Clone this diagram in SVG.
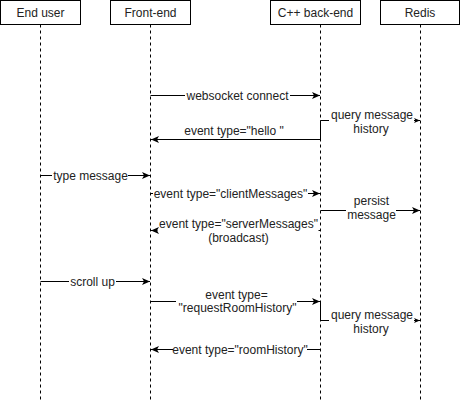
<svg xmlns="http://www.w3.org/2000/svg" width="461" height="402" viewBox="0 0 461 402">
  <style>
    .box { fill: #ffffff; stroke: #000000; stroke-width: 1; }
    .life { fill: none; stroke: #000000; stroke-width: 1; stroke-dasharray: 3 3; }
    .edge { fill: none; stroke: #000000; stroke-width: 1; }
    .arr { marker-end: url(#arrow); }
    .arrs { marker-end: url(#arrowS); }
    text { font-family: "Liberation Sans", Arial, Helvetica, sans-serif; font-size: 12px; fill: #222222; text-anchor: middle; }
  </style>
  <defs>
    <marker id="arrow" viewBox="0 0 8 8" refX="8" refY="4" markerWidth="8" markerHeight="8" markerUnits="userSpaceOnUse" orient="auto">
      <path d="M0,0.5 L8,4 L0,7.5 L2,4 Z" fill="#000000"/>
    </marker>
    <marker id="arrowS" viewBox="0 0 6 6" refX="6" refY="3" markerWidth="6" markerHeight="6" markerUnits="userSpaceOnUse" orient="auto">
      <path d="M0,0.5 L6,3 L0,5.5 L1.5,3 Z" fill="#000000"/>
    </marker>
  </defs>
  <rect width="461" height="402" fill="#ffffff"/>

  <g id="end-user">
    <rect class="box" x="0.5" y="0.5" width="80" height="24"/>
    <text x="40.5" y="16.5">End user</text>
    <path class="life" d="M40.5,24.5 V402"/>
  </g>
  <g id="front-end">
    <rect class="box" x="110.5" y="0.5" width="80" height="24"/>
    <text x="150.5" y="16.5">Front-end</text>
    <path class="life" d="M150.5,24.5 V402"/>
  </g>
  <g id="cpp-back-end">
    <rect class="box" x="270.5" y="0.5" width="90" height="24"/>
    <text x="315.5" y="16.5">C++ back-end</text>
    <path class="life" d="M320.5,24.5 V402"/>
  </g>
  <g id="redis">
    <rect class="box" x="380.5" y="0.5" width="79" height="24"/>
    <text x="420" y="16.5">Redis</text>
    <path class="life" d="M420.5,24.5 V402"/>
  </g>

  <g id="connectors">
    <!-- websocket connect -->
    <path class="edge" d="M150.5,95.5 H185"/>
    <path class="edge arr" d="M290,95.5 H320"/>
    <text x="237.5" y="99.5">websocket connect</text>

    <!-- hello -->
    <path class="edge arr" d="M320.5,139.5 H151"/>
    <text x="234" y="135">event type="hello "</text>

    <!-- query message history 1 -->
    <path class="edge" d="M320.5,139.5 V120.5 H329"/>
    <path class="edge arrs" d="M414,120.5 H420"/>
    <text x="372" y="118.5">query message</text>
    <text x="371" y="133">history</text>

    <!-- type message -->
    <path class="edge" d="M40.5,175.5 H52"/>
    <path class="edge arr" d="M128,175.5 H150"/>
    <text x="90.5" y="179.5">type message</text>

    <!-- clientMessages -->
    <path class="edge" d="M150.5,193.5 H153"/>
    <path class="edge arr" d="M308,193.5 H320"/>
    <text x="230.5" y="197.5">event type="clientMessages"</text>

    <!-- serverMessages -->
    <path class="edge" d="M320.5,230.5 H318.5"/>
    <path class="edge arr" d="M157.5,230.5 H151"/>
    <text x="238.5" y="227.5">event type="serverMessages"</text>
    <text x="238.5" y="241.5">(broadcast)</text>

    <!-- persist message -->
    <path class="edge" d="M320.5,210.5 H346"/>
    <path class="edge arr" d="M396,210.5 H420"/>
    <text x="371.5" y="205">persist</text>
    <text x="371.5" y="219">message</text>

    <!-- scroll up -->
    <path class="edge" d="M40.5,281.5 H69"/>
    <path class="edge arr" d="M116,281.5 H150"/>
    <text x="92.5" y="285.5">scroll up</text>

    <!-- requestRoomHistory -->
    <path class="edge" d="M150.5,301.5 H176"/>
    <path class="edge arr" d="M297,301.5 H320"/>
    <text x="236.5" y="298.5">event type=</text>
    <text x="237.5" y="312">"requestRoomHistory"</text>

    <!-- query message history 2 -->
    <path class="edge" d="M320.5,301.5 V320.5 H329"/>
    <path class="edge arrs" d="M414,320.5 H420"/>
    <text x="372" y="318.5">query message</text>
    <text x="371" y="333">history</text>

    <!-- roomHistory -->
    <path class="edge" d="M320.5,349.5 H307"/>
    <path class="edge arr" d="M173,349.5 H151"/>
    <text x="240" y="353.5">event type="roomHistory"</text>
  </g>
</svg>
